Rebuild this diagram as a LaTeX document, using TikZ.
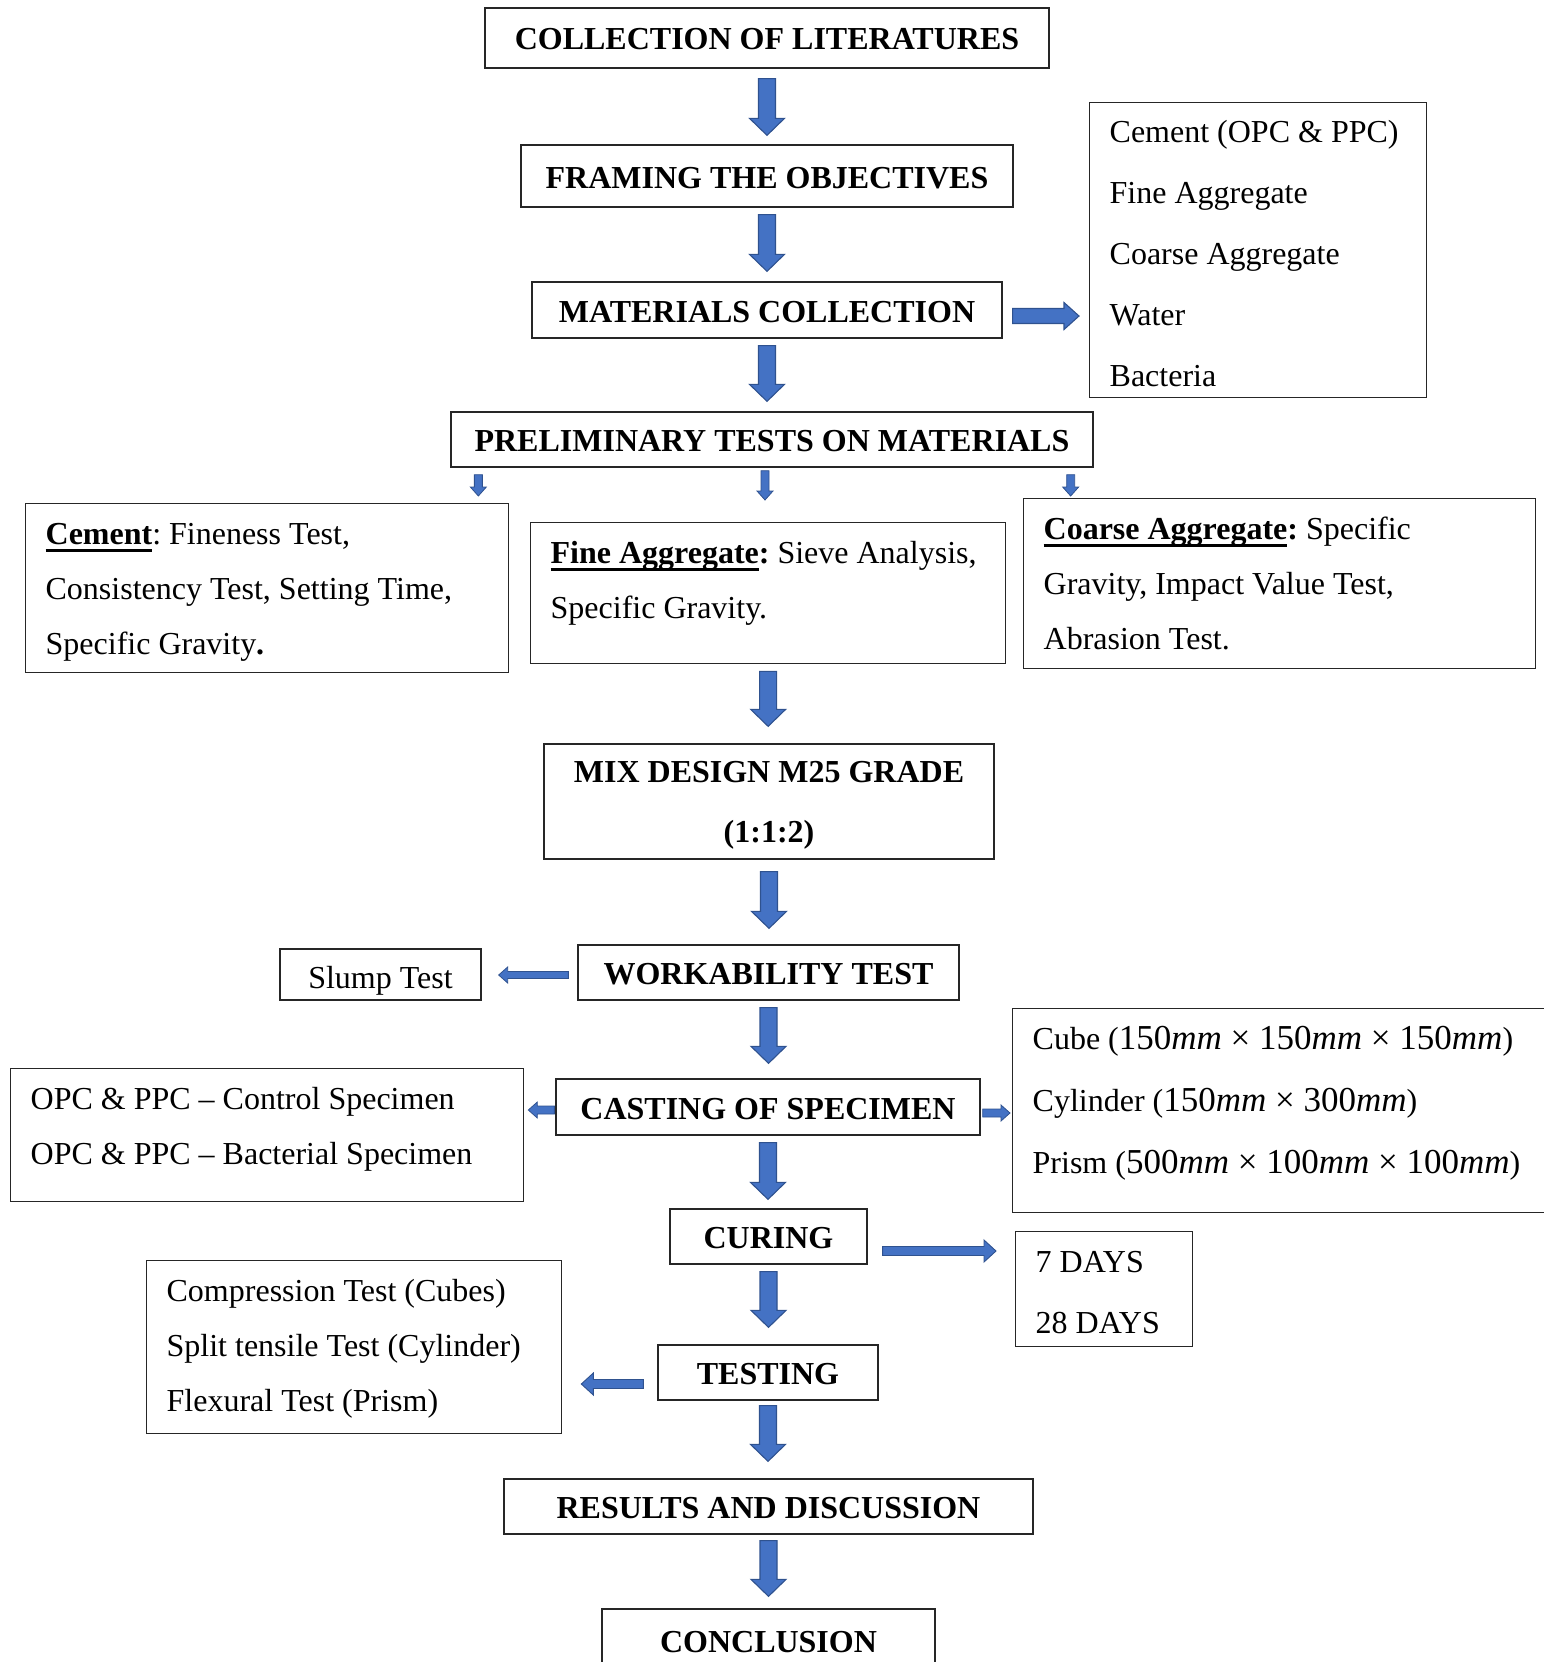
\documentclass[tikz,border=0pt]{standalone}
\usepackage{fontspec}
\setmainfont{Liberation Serif}
\usetikzlibrary{calc}
\frenchspacing
\definecolor{ablue}{HTML}{4472C4}
\definecolor{aline}{HTML}{2F528F}
\newcommand\ulbf[1]{\setbox0\hbox{\textbf{#1}}\rlap{\rule[-7.4pt]{\wd0}{2.6pt}}\box0}
\newcommand\dimx[1]{{\fontsize{35}{62}\selectfont#1}}
\tikzset{
	tbox/.style={draw=black!85, line width=1.3pt, inner sep=0pt, font=\bfseries\fontsize{32}{60}\selectfont, text height=24pt, text depth=0pt},
	nbox/.style={draw=black!85, line width=1.3pt, inner sep=0pt, font=\fontsize{32}{55}\selectfont, text height=27pt, text depth=0pt},
	lbox/.style={draw=black!85, line width=1.3pt, anchor=north west, align=flush left, inner xsep=20pt, inner ysep=0pt, text height=41pt, font=\fontsize{32}{55}\selectfont},
	fat/.style n args={3}{fill=ablue, draw=aline, line width=1.1pt, line join=miter,
		to path={let \p1=(\tikztostart), \p2=(\tikztotarget) in
			($(\p1)!#1!90:(\p2)$) -- ($(\p2)!#3!(\p1)!#1!-90:(\p1)$) -- ($(\p2)!#3!(\p1)!#2!-90:(\p1)$) -- (\p2)
			-- ($(\p2)!#3!(\p1)!#2!90:(\p1)$) -- ($(\p2)!#3!(\p1)!#1!90:(\p1)$) -- ($(\p1)!#1!-90:(\p2)$) -- cycle}},
	bigfat/.style={fat={8.5pt}{17.5pt}{17pt}},
	midfat/.style={fat={7.5pt}{13.5pt}{15pt}},
	tinyfat/.style={fat={4pt}{8pt}{9pt}, line width=0.8pt},
	thinfat/.style={fat={3.5pt}{8pt}{9pt}, line width=0.8pt},
	curfat/.style={fat={4.5pt}{11pt}{12pt}, line width=0.9pt}
}
\begin{document}
\begin{tikzpicture}[x=1pt, y=-1pt]
	\useasboundingbox (0,0) rectangle (1544,1662);
	
	\node[tbox, minimum width=564pt, minimum height=60pt] (col) at (767,38) {COLLECTION OF LITERATURES};
	\node[tbox, minimum width=492pt, minimum height=62pt] (frm) at (767,176) {FRAMING THE OBJECTIVES};
	\node[tbox, minimum width=470pt, minimum height=56pt] (mat) at (767,310) {MATERIALS COLLECTION};
	\node[lbox, text width=297pt, text height=40pt, text depth=255pt, font=\fontsize{32}{61}\selectfont] (lst) at (1089,102) {Cement (OPC \& PPC)\\Fine Aggregate\\Coarse Aggregate\\Water\\Bacteria};
	\node[tbox, minimum width=642pt, minimum height=55pt] (pre) at (772,439.5) {PRELIMINARY TESTS ON MATERIALS};
	
	\node[lbox, text width=443pt, text depth=128pt] (cem) at (25,503) {\ulbf{Cement}: Fineness Test,\\Consistency Test, Setting Time,\\Specific Gravity\textbf{.}};
	\node[lbox, text width=435pt, text depth=100pt] (fin) at (530,522) {\ulbf{Fine Aggregate}\textbf{:} Sieve Analysis,\\Specific Gravity.};
	\node[lbox, text width=472pt, text depth=129pt] (coa) at (1023,498) {\ulbf{Coarse Aggregate}\textbf{:} Specific\\Gravity, Impact Value Test,\\Abrasion Test.};
	
	\node[tbox, minimum width=450pt, minimum height=115pt, align=center, text height=81pt] (mix) at (769,801.5) {MIX DESIGN M25 GRADE\\(1:1:2)};
	\node[nbox, minimum width=201pt, minimum height=51pt] (slp) at (380.5,974.5) {Slump Test};
	\node[tbox, minimum width=381pt, minimum height=55pt] (wrk) at (768.5,972.5) {WORKABILITY TEST};
	
	\node[lbox, text width=473pt, text depth=92pt] (opc) at (10,1068) {OPC \& PPC -- Control Specimen\\OPC \& PPC -- Bacterial Specimen};
	\node[tbox, minimum width=424pt, minimum height=56pt] (cst) at (768,1107) {CASTING OF SPECIMEN};
	\node[lbox, text width=508pt, text depth=163pt, font=\fontsize{32}{62}\selectfont] (cub) at (1012,1008) {Cube (\dimx{150\textit{mm} × 150\textit{mm} × 150\textit{mm}})\\Cylinder (\dimx{150\textit{mm} × 300\textit{mm}})\\Prism (\dimx{500\textit{mm} × 100\textit{mm} × 100\textit{mm}})};
	
	\node[tbox, minimum width=197pt, minimum height=55pt] (cur) at (768.5,1236.5) {CURING};
	\node[lbox, text width=137pt, text depth=74pt, font=\fontsize{32}{61}\selectfont] (day) at (1015,1231) {7 DAYS\\28 DAYS};
	\node[lbox, text width=375pt, text depth=132pt] (tst) at (146,1260) {Compression Test (Cubes)\\Split tensile Test (Cylinder)\\Flexural Test (Prism)};
	\node[tbox, minimum width=220pt, minimum height=55pt] (tes) at (768,1372.5) {TESTING};
	\node[tbox, minimum width=529pt, minimum height=55pt] (res) at (768.5,1506.5) {RESULTS AND DISCUSSION};
	\node[tbox, minimum width=333pt, minimum height=62pt] (con) at (768.5,1640) {CONCLUSION};
	
	\draw[bigfat] ([yshift=-10pt]col.south) to ($(col.south |- frm.north)+(0pt,9pt)$);
	\draw[bigfat] ([yshift=-7pt]frm.south) to ($(frm.south |- mat.north)+(0pt,10pt)$);
	\draw[bigfat] ([yshift=-7pt]mat.south) to ($(mat.south |- pre.north)+(0pt,10pt)$);
	\draw[midfat] ([xshift=10pt,yshift=-6pt]mat.east) to ($(mat.east -| lst.west)+(-10pt,-6pt)$);
	
	\draw[tinyfat] ([xshift=28pt,yshift=-7pt]pre.south west) to ($(pre.south west |- cem.north)+(28pt,7pt)$);
	\draw[tinyfat] ([xshift=-7pt,yshift=-3pt]pre.south) to ($(pre.south |- fin.north)+(-7pt,22pt)$);
	\draw[tinyfat] ([xshift=-23pt,yshift=-7pt]pre.south east) to ($(pre.south east |- coa.north)+(-23pt,2pt)$);
	
	\draw[bigfat] ([yshift=-7pt]fin.south) to ($(fin.south |- mix.north)+(0pt,17pt)$);
	\draw[bigfat] ([yshift=-12pt]mix.south) to ($(mix.south |- wrk.north)+(0pt,16pt)$);
	\draw[thinfat] ([xshift=-9pt,yshift=-2.5pt]wrk.west) to ($(wrk.west -| slp.east)+(17pt,-2.5pt)$);
	\draw[bigfat] ([yshift=-7pt]wrk.south) to ($(wrk.south |- cst.north)+(0pt,15pt)$);
	\draw[tinyfat] ([xshift=-1pt,yshift=-3pt]cst.west) to ($(cst.west -| opc.east)+(4pt,-3pt)$);
	\draw[tinyfat] ([xshift=2pt,yshift=-6pt]cst.east) to ($(cst.east -| cub.west)+(-2pt,-6pt)$);
	\draw[bigfat] ([yshift=-7pt]cst.south) to ($(cst.south |- cur.north)+(0pt,9pt)$);
	\draw[curfat] ([xshift=15pt,yshift=-14.5pt]cur.east) to ($(cur.east -| day.west)+(-19pt,-14.5pt)$);
	\draw[bigfat] ([yshift=-7pt]cur.south) to ($(cur.south |- tes.north)+(0pt,17pt)$);
	\draw[curfat] ([xshift=-14pt,yshift=-11.5pt]tes.west) to ($(tes.west -| tst.east)+(19pt,-11.5pt)$);
	\draw[bigfat] ([yshift=-5pt]tes.south) to ($(tes.south |- res.north)+(0pt,17pt)$);
	\draw[bigfat] ([yshift=-6pt]res.south) to ($(res.south |- con.north)+(0pt,12pt)$);
\end{tikzpicture}
\end{document}
